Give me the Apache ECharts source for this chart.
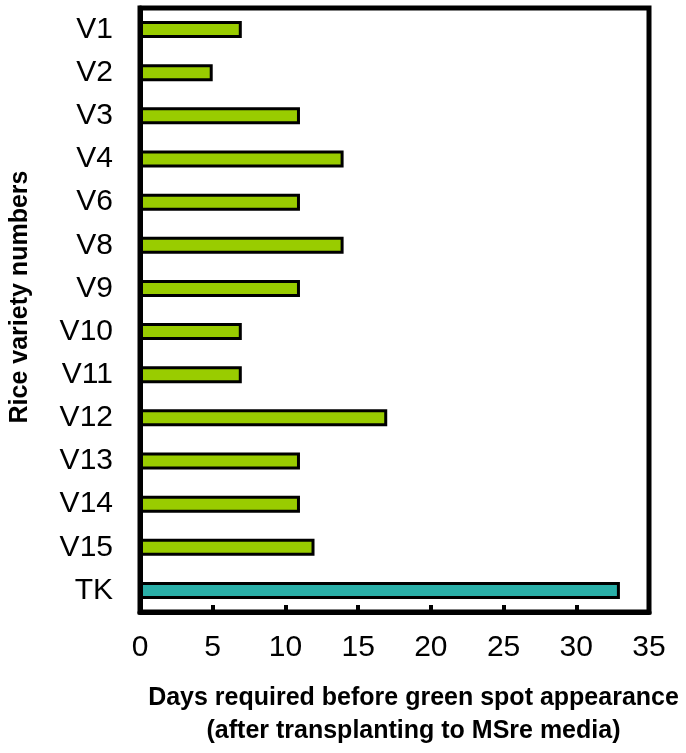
<!DOCTYPE html>
<html>
<head>
<meta charset="utf-8">
<script src="https://cdn.jsdelivr.net/npm/echarts@6/dist/echarts.min.js"></script>
<style>
html,body{margin:0;padding:0;background:#fff;}
#chart{width:686px;height:753px;}
</style>
</head>
<body>
<div id="chart"></div>
<script>
var categories = ['V1','V2','V3','V4','V6','V8','V9','V10','V11','V12','V13','V14','V15','TK'];
var days = [7,5,11,14,11,14,11,7,7,17,11,11,12,33];
var barColors = ['#99CC00','#99CC00','#99CC00','#99CC00','#99CC00','#99CC00','#99CC00','#99CC00','#99CC00','#99CC00','#99CC00','#99CC00','#99CC00','#2AAFA8'];
var xTicks = [0,5,10,15,20,25,30,35];

var FONT = '"Liberation Sans", Arial, sans-serif';
var chart = echarts.init(document.getElementById('chart'), null, {renderer:'canvas'});
chart.setOption({
  animation:false,
  backgroundColor:'#fff',
  grid:{left:139,right:37,top:8,bottom:134,show:true,borderColor:'#000',borderWidth:5,backgroundColor:'transparent'},
  xAxis:{
    type:'value',min:xTicks[0],max:xTicks[xTicks.length-1],interval:5,
    axisLine:{show:true,lineStyle:{color:'#000',width:5}},
    axisTick:{show:true,inside:true,length:7,lineStyle:{color:'#000',width:4}},
    splitLine:{show:false},
    axisLabel:{color:'#000',fontFamily:FONT,fontSize:30,margin:21},
    name:'Days required before green spot appearance\n(after transplanting to MSre media)',
    nameLocation:'middle',nameGap:70,
    nameTextStyle:{color:'#000',fontFamily:FONT,fontSize:25,fontWeight:'bold',lineHeight:33,padding:[0,0,0,38]}
  },
  yAxis:{
    type:'category',data:categories,inverse:true,
    axisLine:{show:true,lineStyle:{color:'#000',width:5}},
    axisTick:{show:false},
    axisLabel:{color:'#000',fontFamily:FONT,fontSize:30,margin:27},
    name:'Rice variety numbers',nameLocation:'middle',nameGap:107,
    nameTextStyle:{color:'#000',fontFamily:FONT,fontSize:25,fontWeight:'bold',padding:[0,0,0,26]}
  },
  series:[{
    type:'bar',barWidth:17,
    data:days.map(function(v,i){return {value:v,itemStyle:{color:barColors[i]}};}),
    itemStyle:{borderColor:'#000',borderWidth:3}
  }]
});
</script>
</body>
</html>
